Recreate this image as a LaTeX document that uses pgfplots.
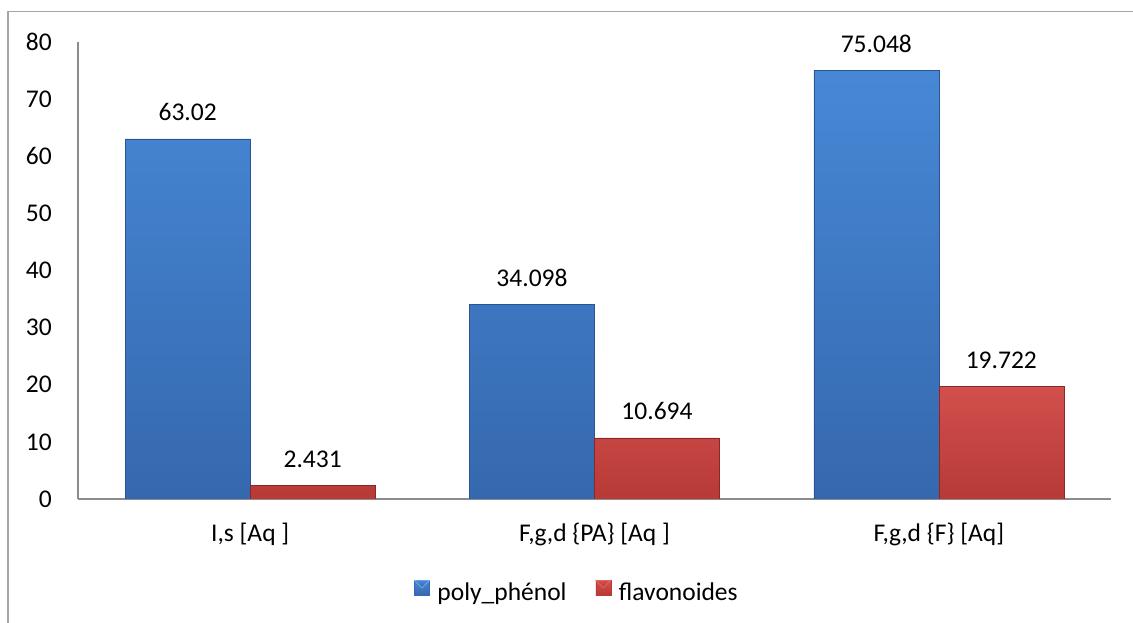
\documentclass[border=0pt]{standalone}
\usepackage{pgfplots}
\pgfplotsset{compat=1.18}
\usepackage{fontspec}
\setmainfont{Carlito}

\definecolor{frameGray}{HTML}{A6A6A6}
\definecolor{axisGray}{HTML}{8C8C8C}
% blue series
\definecolor{bTop}{HTML}{4788D6}
\definecolor{bBot}{HTML}{3568AE}
\definecolor{bLight}{HTML}{74ABEB}
\definecolor{bDark}{HTML}{2A5591}
% red series
\definecolor{rTop}{HTML}{D24F4C}
\definecolor{rBot}{HTML}{B73A37}
\definecolor{rLight}{HTML}{EC6E6B}
\definecolor{rDark}{HTML}{8A2826}

\newcommand\chartfont{\fontsize{25.5}{30}\selectfont}

\begin{document}
\begin{tikzpicture}
\useasboundingbox (0pt,0pt) rectangle (1133pt,623pt);
\draw[frameGray, line width=1.5pt] (8pt,-30pt) -- (8pt,611.5pt) -- (1170pt,611.5pt);
\begin{axis}[
  at={(78pt,124pt)}, anchor=south west,
  scale only axis, width=1033pt, height=457pt,
  ybar=0pt, bar width=125pt,
  xmin=-0.5, xmax=2.5, ymin=0, ymax=80,
  xtick={0,1,2},
  xticklabels={{I,s [Aq ]},{F,g,d \{PA\} [Aq ]},{F,g,d \{F\} [Aq]}},
  ytick={0,10,...,80},
  axis x line*=bottom, axis y line*=left,
  axis line style={draw=axisGray, line width=1.5pt, -},
  major tick length=0pt,
  /pgf/number format/assume math mode=true,
  tick label style={font=\chartfont, inner sep=0pt},
  yticklabel style={anchor=east, xshift=-26pt},
  xticklabel style={anchor=base, yshift=-42.7pt},
  point meta=y,
  nodes near coords={\pgfmathprintnumber[fixed,precision=3]{\pgfplotspointmeta}},
  nodes near coords style={font=\chartfont, anchor=base, inner sep=0pt, yshift=18pt, text=black},
  legend columns=2,
  legend style={draw=none, fill=none, font=\chartfont,
    at={(axis description cs:0.483,-0.2035)}, anchor=center,
    /tikz/every even column/.append style={column sep=27pt}},
]
\addplot[draw=bDark, line width=0.6pt, top color=bTop, bottom color=bBot,
  legend image code/.code={
    \fill[bBot] (0pt,-3pt) rectangle (15pt,12pt);
    \fill[bLight] (0pt,12pt) -- (15pt,12pt) -- (7.5pt,4.5pt) -- cycle;
    \path[draw=none, fill=none] (0pt,0pt) -- (21pt,0pt);}]
  coordinates {(0,63.02) (1,34.098) (2,75.048)};
\addlegendentry{poly\_phénol}
\addplot[draw=rDark, line width=0.6pt, top color=rTop, bottom color=rBot,
  legend image code/.code={
    \fill[rBot] (0pt,-3pt) rectangle (15pt,12pt);
    \fill[rLight] (0pt,12pt) -- (15pt,12pt) -- (7.5pt,4.5pt) -- cycle;
    \path[draw=none, fill=none] (0pt,0pt) -- (21pt,0pt);}]
  coordinates {(0,2.431) (1,10.694) (2,19.722)};
\addlegendentry{flavonoides}
\end{axis}
\end{tikzpicture}
\end{document}
